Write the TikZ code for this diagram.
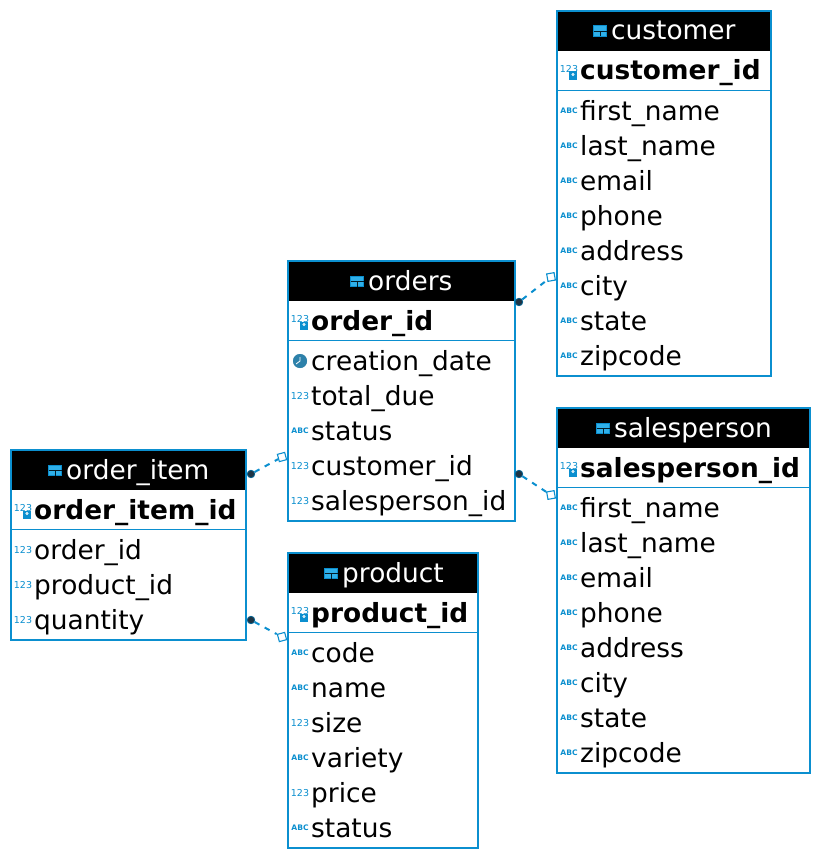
\documentclass[tikz,border=0pt]{standalone}
\usepackage{fontspec}
\setmainfont{DejaVu Sans}
\usetikzlibrary{calc}
\definecolor{dbblue}{HTML}{0B8FCF}
\definecolor{dotc}{HTML}{1F3444}
\definecolor{iconfill}{HTML}{2FB0EA}
\tikzset{
 x=1pt,y=-1pt,
 tablebox/.style={draw=dbblue,line width=1.3pt,fill=white,anchor=north west,inner sep=0pt,rectangle},
 headbar/.style={fill=black,anchor=north west,inner sep=0pt,rectangle},
 sepline/.style={draw=dbblue,line width=0.7pt},
 colname/.style={anchor=west,inner sep=0pt,font=\fontsize{26.4}{27}\selectfont,text=black,text height=20pt,text depth=2pt},
 pkname/.style={colname,font=\fontsize{26.4}{27}\selectfont\bfseries},
 titletext/.style={anchor=west,inner sep=0pt,font=\fontsize{26.4}{27}\selectfont,text=white,text height=20pt,text depth=2pt},
 numicon/.style={anchor=center,inner sep=0pt,font=\fontsize{9.5}{10}\selectfont,text=dbblue},
 abcicon/.style={anchor=center,inner sep=0pt,font=\fontsize{7.6}{8}\selectfont\bfseries,text=dbblue},
 relline/.style={draw=dbblue,line width=2pt,dash pattern=on 5.5pt off 6pt},
 fromdot/.style={circle,fill=dotc,draw=dbblue!70!black,line width=0.8pt,minimum size=7.5pt,inner sep=0pt},
 todiamond/.style={rectangle,draw=dbblue,line width=1.1pt,fill=white,minimum size=7.5pt,inner sep=0pt},
}
% table box: name, x, y, width, height, title icon x, title
\newcommand{\dbtable}[7]{
 \node[tablebox,minimum width=#4pt-1pt,minimum height=#5pt-1pt] (#1) at (#2,#3) {};
 \node[headbar,minimum width=#4pt-1pt,minimum height=40pt] (#1head) at (#2,#3) {};
 \draw[dbblue,line width=1pt,fill=iconfill] (#6+.5,#3+15) rectangle ++(13,10.5);
 \draw[black!80!dbblue,line width=.8pt] (#6+.5,#3+20.5) -- ++(13,0) (#6+7,#3+20.5) -- ++(0,5);
 \node[titletext] (#1title) at (#6+18,#3+20) {#7};
 \draw[sepline] (#2,#3+79.5) -- ++(#4-1,0);
 \draw[draw=dbblue,line width=1.3pt] (#1.north west) rectangle (#1.south east);
}
% pk row: table name, x, y centre, text
\newcommand{\pkrow}[4]{
 \node[numicon] (#1pki) at (#2+12,#3-1.5) {123};
 \node[rectangle,fill=dbblue,minimum size=8pt,inner sep=0pt] (#1pkk) at (#2+16,#3+4.5) {};
 \draw[white,line width=.7pt] (#2+16,#3+3.5) circle (1.2pt);
 \node[pkname] (#1pk) at (#2+23,#3) {#4};
}
\newcommand{\numrow}[4]{
 \node[numicon] at (#2+12,#3) {123};
 \node[colname] at (#2+23,#3) {#4};
}
\newcommand{\abcrow}[4]{
 \node[abcicon] at (#2+12,#3) {ABC};
 \node[colname] at (#2+23,#3) {#4};
}
\newcommand{\clockrow}[4]{
 \fill[dbblue!60!black!60!white] (#2+12,#3) circle (7pt);
 \fill[dbblue!75!black!85] (#2+12,#3) circle (7pt);
 \draw[white,line width=.8pt] (#2+12,#3-4) -- (#2+12,#3) -- (#2+8,#3+3);
 \node[colname] at (#2+23,#3) {#4};
}
\begin{document}
\begin{tikzpicture}
\useasboundingbox (0,0) rectangle (821,859);
% customer
\dbtable{customer}{557}{11}{214}{365}{593}{customer}
\pkrow{customer}{557}{71}{customer\_id}
\abcrow{customer}{557}{111}{first\_name}
\abcrow{customer}{557}{146}{last\_name}
\abcrow{customer}{557}{181}{email}
\abcrow{customer}{557}{216}{phone}
\abcrow{customer}{557}{251}{address}
\abcrow{customer}{557}{286}{city}
\abcrow{customer}{557}{321}{state}
\abcrow{customer}{557}{356}{zipcode}
% salesperson
\dbtable{salesperson}{557}{408}{253}{365}{596}{salesperson}
\pkrow{salesperson}{557}{468}{salesperson\_id}
\abcrow{salesperson}{557}{508}{first\_name}
\abcrow{salesperson}{557}{543}{last\_name}
\abcrow{salesperson}{557}{578}{email}
\abcrow{salesperson}{557}{613}{phone}
\abcrow{salesperson}{557}{648}{address}
\abcrow{salesperson}{557}{683}{city}
\abcrow{salesperson}{557}{718}{state}
\abcrow{salesperson}{557}{753}{zipcode}
% orders
\dbtable{orders}{288}{261}{227}{260}{350}{orders}
\pkrow{orders}{288}{321}{order\_id}
\clockrow{orders}{288}{361}{creation\_date}
\numrow{orders}{288}{396}{total\_due}
\abcrow{orders}{288}{431}{status}
\numrow{orders}{288}{466}{customer\_id}
\numrow{orders}{288}{501}{salesperson\_id}
% order_item
\dbtable{orderitem}{11}{450}{235}{190}{48}{order\_item}
\pkrow{orderitem}{11}{510}{order\_item\_id}
\numrow{orderitem}{11}{550}{order\_id}
\numrow{orderitem}{11}{585}{product\_id}
\numrow{orderitem}{11}{620}{quantity}
% product
\dbtable{product}{288}{553}{190}{295}{324}{product}
\pkrow{product}{288}{613}{product\_id}
\abcrow{product}{288}{653}{code}
\abcrow{product}{288}{688}{name}
\numrow{product}{288}{723}{size}
\abcrow{product}{288}{758}{variety}
\numrow{product}{288}{793}{price}
\abcrow{product}{288}{828}{status}
% relationships
\node[fromdot] (r1a) at (519,302) {};
\node[todiamond,rotate=10] (r1b) at (551,277) {};
\node[fromdot] (r2a) at (519,474) {};
\node[todiamond,rotate=10] (r2b) at (551,495) {};
\node[fromdot] (r3a) at (251,474) {};
\node[todiamond,rotate=15] (r3b) at (282,457) {};
\node[fromdot] (r4a) at (251,620) {};
\node[todiamond,rotate=15] (r4b) at (282,637) {};
\draw[relline] (r1a) -- (r1b);
\draw[relline] (r2a) -- (r2b);
\draw[relline] (r3a) -- (r3b);
\draw[relline] (r4a) -- (r4b);
\end{tikzpicture}
\end{document}
